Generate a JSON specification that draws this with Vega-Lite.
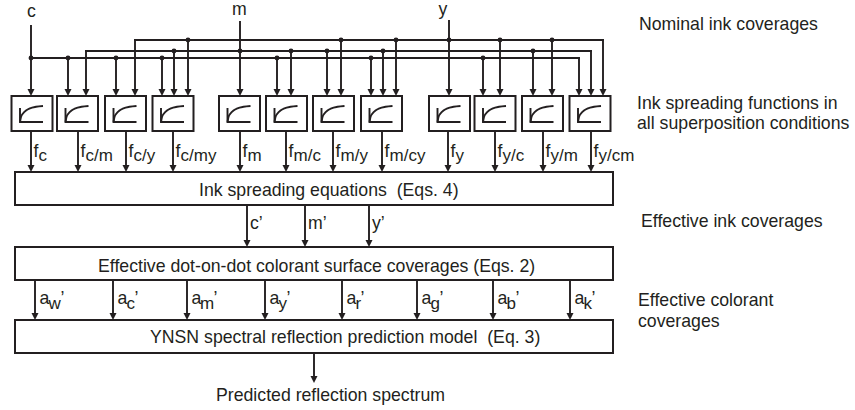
{
  "$schema": "https://vega.github.io/schema/vega-lite/v6.json",
  "width": 855,
  "height": 410,
  "autosize": {"type": "none"},
  "padding": 0,
  "background": "white",
  "config": {"view": {"stroke": null}, "text": {"font": "Liberation Sans", "color": "#231f20"}},
  "datasets": {
    "rules": [
      {"x":31,"y":26,"x2":31,"y2":93},{"x":240,"y":22,"x2":240,"y2":93},{"x":449,"y":21,"x2":449,"y2":93},
      {"x":31,"y":58,"x2":579,"y2":58},{"x":86,"y":51,"x2":591,"y2":51},{"x":135,"y":40,"x2":603,"y2":40},
      {"x":68,"y":58,"x2":68,"y2":93},{"x":116,"y":58,"x2":116,"y2":93},{"x":162,"y":58,"x2":162,"y2":93},{"x":277,"y":58,"x2":277,"y2":93},{"x":371,"y":58,"x2":371,"y2":93},{"x":483,"y":58,"x2":483,"y2":93},{"x":579,"y":58,"x2":579,"y2":93},
      {"x":86,"y":51,"x2":86,"y2":93},{"x":174,"y":51,"x2":174,"y2":93},{"x":291,"y":51,"x2":291,"y2":93},{"x":327,"y":51,"x2":327,"y2":93},{"x":383,"y":51,"x2":383,"y2":93},{"x":533,"y":51,"x2":533,"y2":93},{"x":591,"y":51,"x2":591,"y2":93},
      {"x":135,"y":40,"x2":135,"y2":93},{"x":188,"y":40,"x2":188,"y2":93},{"x":341,"y":40,"x2":341,"y2":93},{"x":396,"y":40,"x2":396,"y2":93},{"x":500,"y":40,"x2":500,"y2":93},{"x":552,"y":40,"x2":552,"y2":93},{"x":603,"y":40,"x2":603,"y2":93},
      {"x":31,"y":131,"x2":31,"y2":169},{"x":78,"y":131,"x2":78,"y2":169},{"x":126,"y":131,"x2":126,"y2":169},{"x":173,"y":131,"x2":173,"y2":169},{"x":240,"y":131,"x2":240,"y2":169},{"x":286,"y":131,"x2":286,"y2":169},{"x":333,"y":131,"x2":333,"y2":169},{"x":382,"y":131,"x2":382,"y2":169},{"x":448,"y":131,"x2":448,"y2":169},{"x":495,"y":131,"x2":495,"y2":169},{"x":543,"y":131,"x2":543,"y2":169},{"x":591,"y":131,"x2":591,"y2":169},
      {"x":247,"y":205,"x2":247,"y2":244},{"x":305,"y":205,"x2":305,"y2":244},{"x":369,"y":205,"x2":369,"y2":244},
      {"x":35,"y":280,"x2":35,"y2":317},{"x":113,"y":280,"x2":113,"y2":317},{"x":187,"y":280,"x2":187,"y2":317},{"x":265,"y":280,"x2":265,"y2":317},{"x":342,"y":280,"x2":342,"y2":317},{"x":417,"y":280,"x2":417,"y2":317},{"x":493,"y":280,"x2":493,"y2":317},{"x":570,"y":280,"x2":570,"y2":317},
      {"x":314,"y":353,"x2":314,"y2":380}
    ],
    "boxes": [
      {"x":11.5,"x2":52.5,"y":96,"y2":131},{"x":57,"x2":98,"y":96,"y2":131},{"x":105,"x2":146,"y":96,"y2":131},{"x":152.5,"x2":193.5,"y":96,"y2":131},
      {"x":219,"x2":260,"y":96,"y2":131},{"x":266,"x2":307,"y":96,"y2":131},{"x":313,"x2":354,"y":96,"y2":131},{"x":361,"x2":402,"y":96,"y2":131},
      {"x":429,"x2":470,"y":96,"y2":131},{"x":474.5,"x2":515.5,"y":96,"y2":131},{"x":522,"x2":563,"y":96,"y2":131},{"x":569.5,"x2":610.5,"y":96,"y2":131},
      {"x":15,"x2":613,"y":172,"y2":205},{"x":15,"x2":613,"y":247,"y2":280},{"x":15,"x2":613,"y":320,"y2":353}
    ],
    "heads": [
      {"x":31,"y":92.5},{"x":240,"y":92.5},{"x":449,"y":92.5},
      {"x":68,"y":92.5},{"x":116,"y":92.5},{"x":162,"y":92.5},{"x":277,"y":92.5},{"x":371,"y":92.5},{"x":483,"y":92.5},{"x":579,"y":92.5},
      {"x":86,"y":92.5},{"x":174,"y":92.5},{"x":291,"y":92.5},{"x":327,"y":92.5},{"x":383,"y":92.5},{"x":533,"y":92.5},{"x":591,"y":92.5},
      {"x":135,"y":92.5},{"x":188,"y":92.5},{"x":341,"y":92.5},{"x":396,"y":92.5},{"x":500,"y":92.5},{"x":552,"y":92.5},{"x":603,"y":92.5},
      {"x":31,"y":168.5},{"x":78,"y":168.5},{"x":126,"y":168.5},{"x":173,"y":168.5},{"x":240,"y":168.5},{"x":286,"y":168.5},{"x":333,"y":168.5},{"x":382,"y":168.5},{"x":448,"y":168.5},{"x":495,"y":168.5},{"x":543,"y":168.5},{"x":591,"y":168.5},
      {"x":247,"y":243.5},{"x":305,"y":243.5},{"x":369,"y":243.5},
      {"x":35,"y":316.5},{"x":113,"y":316.5},{"x":187,"y":316.5},{"x":265,"y":316.5},{"x":342,"y":316.5},{"x":417,"y":316.5},{"x":493,"y":316.5},{"x":570,"y":316.5},
      {"x":314,"y":379.5}
    ],
    "dots": [
      {"x":31,"y":58},{"x":68,"y":58},{"x":116,"y":58},{"x":162,"y":58},{"x":277,"y":58},{"x":371,"y":58},{"x":483,"y":58},
      {"x":174,"y":51},{"x":240,"y":51},{"x":291,"y":51},{"x":327,"y":51},{"x":383,"y":51},{"x":533,"y":51},
      {"x":188,"y":40},{"x":341,"y":40},{"x":396,"y":40},{"x":449,"y":40},{"x":500,"y":40},{"x":552,"y":40}
    ],
    "icons": [
      {"g":"L1","o":0,"x":20,"y":108},{"g":"L1","o":1,"x":20,"y":122},{"g":"L1","o":2,"x":43,"y":122},
      {"g":"C1","o":0,"x":20,"y":122},{"g":"C1","o":1,"x":21,"y":117},{"g":"C1","o":2,"x":23,"y":113.5},{"g":"C1","o":3,"x":26,"y":110.5},{"g":"C1","o":4,"x":30,"y":108.3},{"g":"C1","o":5,"x":36,"y":106.8},{"g":"C1","o":6,"x":43,"y":106},
      {"g":"L2","o":0,"x":65.5,"y":108},{"g":"L2","o":1,"x":65.5,"y":122},{"g":"L2","o":2,"x":88.5,"y":122},
      {"g":"C2","o":0,"x":65.5,"y":122},{"g":"C2","o":1,"x":66.5,"y":117},{"g":"C2","o":2,"x":68.5,"y":113.5},{"g":"C2","o":3,"x":71.5,"y":110.5},{"g":"C2","o":4,"x":75.5,"y":108.3},{"g":"C2","o":5,"x":81.5,"y":106.8},{"g":"C2","o":6,"x":88.5,"y":106},
      {"g":"L3","o":0,"x":113.5,"y":108},{"g":"L3","o":1,"x":113.5,"y":122},{"g":"L3","o":2,"x":136.5,"y":122},
      {"g":"C3","o":0,"x":113.5,"y":122},{"g":"C3","o":1,"x":114.5,"y":117},{"g":"C3","o":2,"x":116.5,"y":113.5},{"g":"C3","o":3,"x":119.5,"y":110.5},{"g":"C3","o":4,"x":123.5,"y":108.3},{"g":"C3","o":5,"x":129.5,"y":106.8},{"g":"C3","o":6,"x":136.5,"y":106},
      {"g":"L4","o":0,"x":161,"y":108},{"g":"L4","o":1,"x":161,"y":122},{"g":"L4","o":2,"x":184,"y":122},
      {"g":"C4","o":0,"x":161,"y":122},{"g":"C4","o":1,"x":162,"y":117},{"g":"C4","o":2,"x":164,"y":113.5},{"g":"C4","o":3,"x":167,"y":110.5},{"g":"C4","o":4,"x":171,"y":108.3},{"g":"C4","o":5,"x":177,"y":106.8},{"g":"C4","o":6,"x":184,"y":106},
      {"g":"L5","o":0,"x":227.5,"y":108},{"g":"L5","o":1,"x":227.5,"y":122},{"g":"L5","o":2,"x":250.5,"y":122},
      {"g":"C5","o":0,"x":227.5,"y":122},{"g":"C5","o":1,"x":228.5,"y":117},{"g":"C5","o":2,"x":230.5,"y":113.5},{"g":"C5","o":3,"x":233.5,"y":110.5},{"g":"C5","o":4,"x":237.5,"y":108.3},{"g":"C5","o":5,"x":243.5,"y":106.8},{"g":"C5","o":6,"x":250.5,"y":106},
      {"g":"L6","o":0,"x":274.5,"y":108},{"g":"L6","o":1,"x":274.5,"y":122},{"g":"L6","o":2,"x":297.5,"y":122},
      {"g":"C6","o":0,"x":274.5,"y":122},{"g":"C6","o":1,"x":275.5,"y":117},{"g":"C6","o":2,"x":277.5,"y":113.5},{"g":"C6","o":3,"x":280.5,"y":110.5},{"g":"C6","o":4,"x":284.5,"y":108.3},{"g":"C6","o":5,"x":290.5,"y":106.8},{"g":"C6","o":6,"x":297.5,"y":106},
      {"g":"L7","o":0,"x":321.5,"y":108},{"g":"L7","o":1,"x":321.5,"y":122},{"g":"L7","o":2,"x":344.5,"y":122},
      {"g":"C7","o":0,"x":321.5,"y":122},{"g":"C7","o":1,"x":322.5,"y":117},{"g":"C7","o":2,"x":324.5,"y":113.5},{"g":"C7","o":3,"x":327.5,"y":110.5},{"g":"C7","o":4,"x":331.5,"y":108.3},{"g":"C7","o":5,"x":337.5,"y":106.8},{"g":"C7","o":6,"x":344.5,"y":106},
      {"g":"L8","o":0,"x":369.5,"y":108},{"g":"L8","o":1,"x":369.5,"y":122},{"g":"L8","o":2,"x":392.5,"y":122},
      {"g":"C8","o":0,"x":369.5,"y":122},{"g":"C8","o":1,"x":370.5,"y":117},{"g":"C8","o":2,"x":372.5,"y":113.5},{"g":"C8","o":3,"x":375.5,"y":110.5},{"g":"C8","o":4,"x":379.5,"y":108.3},{"g":"C8","o":5,"x":385.5,"y":106.8},{"g":"C8","o":6,"x":392.5,"y":106},
      {"g":"L9","o":0,"x":437.5,"y":108},{"g":"L9","o":1,"x":437.5,"y":122},{"g":"L9","o":2,"x":460.5,"y":122},
      {"g":"C9","o":0,"x":437.5,"y":122},{"g":"C9","o":1,"x":438.5,"y":117},{"g":"C9","o":2,"x":440.5,"y":113.5},{"g":"C9","o":3,"x":443.5,"y":110.5},{"g":"C9","o":4,"x":447.5,"y":108.3},{"g":"C9","o":5,"x":453.5,"y":106.8},{"g":"C9","o":6,"x":460.5,"y":106},
      {"g":"L10","o":0,"x":483,"y":108},{"g":"L10","o":1,"x":483,"y":122},{"g":"L10","o":2,"x":506,"y":122},
      {"g":"C10","o":0,"x":483,"y":122},{"g":"C10","o":1,"x":484,"y":117},{"g":"C10","o":2,"x":486,"y":113.5},{"g":"C10","o":3,"x":489,"y":110.5},{"g":"C10","o":4,"x":493,"y":108.3},{"g":"C10","o":5,"x":499,"y":106.8},{"g":"C10","o":6,"x":506,"y":106},
      {"g":"L11","o":0,"x":530.5,"y":108},{"g":"L11","o":1,"x":530.5,"y":122},{"g":"L11","o":2,"x":553.5,"y":122},
      {"g":"C11","o":0,"x":530.5,"y":122},{"g":"C11","o":1,"x":531.5,"y":117},{"g":"C11","o":2,"x":533.5,"y":113.5},{"g":"C11","o":3,"x":536.5,"y":110.5},{"g":"C11","o":4,"x":540.5,"y":108.3},{"g":"C11","o":5,"x":546.5,"y":106.8},{"g":"C11","o":6,"x":553.5,"y":106},
      {"g":"L12","o":0,"x":578,"y":108},{"g":"L12","o":1,"x":578,"y":122},{"g":"L12","o":2,"x":601,"y":122},
      {"g":"C12","o":0,"x":578,"y":122},{"g":"C12","o":1,"x":579,"y":117},{"g":"C12","o":2,"x":581,"y":113.5},{"g":"C12","o":3,"x":584,"y":110.5},{"g":"C12","o":4,"x":588,"y":108.3},{"g":"C12","o":5,"x":594,"y":106.8},{"g":"C12","o":6,"x":601,"y":106}
    ],
    "texts": [
      {"x":27,"y":17,"t":"c"},{"x":232,"y":15,"t":"m"},{"x":438.5,"y":15,"t":"y"},
      {"x":639,"y":30,"t":"Nominal ink coverages"},
      {"x":637,"y":109,"t":"Ink spreading functions in"},
      {"x":637,"y":129,"t":"all superposition conditions"},
      {"x":641,"y":227,"t":"Effective ink coverages"},
      {"x":638,"y":306,"t":"Effective colorant"},
      {"x":638,"y":327,"t":"coverages"},
      {"x":216,"y":401,"t":"Predicted reflection spectrum"},
      {"x":199,"y":196,"t":"Ink spreading equations\u00a0 (Eqs. 4)"},
      {"x":98,"y":272,"t":"Effective dot-on-dot colorant surface coverages (Eqs. 2)"},
      {"x":150,"y":343,"t":"YNSN spectral reflection prediction model\u00a0 (Eq. 3)"},
      {"x":250,"y":229,"t":"c\u2019"},{"x":308,"y":229,"t":"m\u2019"},{"x":372,"y":229,"t":"y\u2019"},
      {"x":33.5,"y":157,"t":"f"},{"x":80.5,"y":157,"t":"f"},{"x":128.5,"y":157,"t":"f"},{"x":175.5,"y":157,"t":"f"},{"x":242.5,"y":157,"t":"f"},{"x":288.5,"y":157,"t":"f"},{"x":335.5,"y":157,"t":"f"},{"x":384.5,"y":157,"t":"f"},{"x":450.5,"y":157,"t":"f"},{"x":497.5,"y":157,"t":"f"},{"x":545.5,"y":157,"t":"f"},{"x":593.5,"y":157,"t":"f"},
      {"x":39.5,"y":304,"t":"a"},{"x":117.5,"y":304,"t":"a"},{"x":191.5,"y":304,"t":"a"},{"x":269.5,"y":304,"t":"a"},{"x":346.5,"y":304,"t":"a"},{"x":421.5,"y":304,"t":"a"},{"x":497.5,"y":304,"t":"a"},{"x":574.5,"y":304,"t":"a"},
      {"x":60.5,"y":304,"t":"\u2019"},{"x":134.5,"y":304,"t":"\u2019"},{"x":213.5,"y":304,"t":"\u2019"},{"x":286.5,"y":304,"t":"\u2019"},{"x":360.5,"y":304,"t":"\u2019"},{"x":439.5,"y":304,"t":"\u2019"},{"x":515.5,"y":304,"t":"\u2019"},{"x":591.5,"y":304,"t":"\u2019"}
    ],
    "subs": [
      {"x":38.5,"y":161,"t":"c"},{"x":85.5,"y":161,"t":"c/m"},{"x":133.5,"y":161,"t":"c/y"},{"x":180.5,"y":161,"t":"c/my"},{"x":247.5,"y":161,"t":"m"},{"x":293.5,"y":161,"t":"m/c"},{"x":340.5,"y":161,"t":"m/y"},{"x":389.5,"y":161,"t":"m/cy"},{"x":455.5,"y":161,"t":"y"},{"x":502.5,"y":161,"t":"y/c"},{"x":550.5,"y":161,"t":"y/m"},{"x":598.5,"y":161,"t":"y/cm"},
      {"x":48.5,"y":309,"t":"w"},{"x":126.5,"y":309,"t":"c"},{"x":200,"y":309,"t":"m"},{"x":278.5,"y":309,"t":"y"},{"x":355.5,"y":309,"t":"r"},{"x":430.5,"y":309,"t":"g"},{"x":506.5,"y":309,"t":"b"},{"x":583.5,"y":309,"t":"k"}
    ]
  },
  "encoding": {
    "x": {"field": "x", "type": "quantitative", "axis": null, "scale": {"domain": [0, 855], "nice": false, "zero": false}},
    "y": {"field": "y", "type": "quantitative", "axis": null, "scale": {"domain": [0, 410], "reverse": true, "nice": false, "zero": false}}
  },
  "layer": [
    {"data": {"name": "rules"}, "mark": {"type": "rule", "color": "#231f20", "strokeWidth": 1.9, "strokeCap": "square"},
     "encoding": {"x2": {"field": "x2"}, "y2": {"field": "y2"}}},
    {"data": {"name": "boxes"}, "mark": {"type": "rect", "fill": "white", "stroke": "#231f20", "strokeWidth": 2},
     "encoding": {"x2": {"field": "x2"}, "y2": {"field": "y2"}}},
    {"data": {"name": "icons"}, "mark": {"type": "line", "color": "#231f20", "strokeWidth": 1.9, "interpolate": "monotone"},
     "encoding": {"detail": {"field": "g"}, "order": {"field": "o", "type": "quantitative"}}},
    {"data": {"name": "heads"}, "mark": {"type": "point", "shape": "M-1,-1L1,-1L0,1Z", "size": 49, "filled": true, "color": "#231f20", "opacity": 1}},
    {"data": {"name": "dots"}, "mark": {"type": "circle", "size": 24, "color": "#231f20", "opacity": 1}},
    {"data": {"name": "texts"}, "mark": {"type": "text", "align": "left", "baseline": "alphabetic", "fontSize": 17.7},
     "encoding": {"text": {"field": "t"}}},
    {"data": {"name": "subs"}, "mark": {"type": "text", "align": "left", "baseline": "alphabetic", "fontSize": 17},
     "encoding": {"text": {"field": "t"}}}
  ]
}
